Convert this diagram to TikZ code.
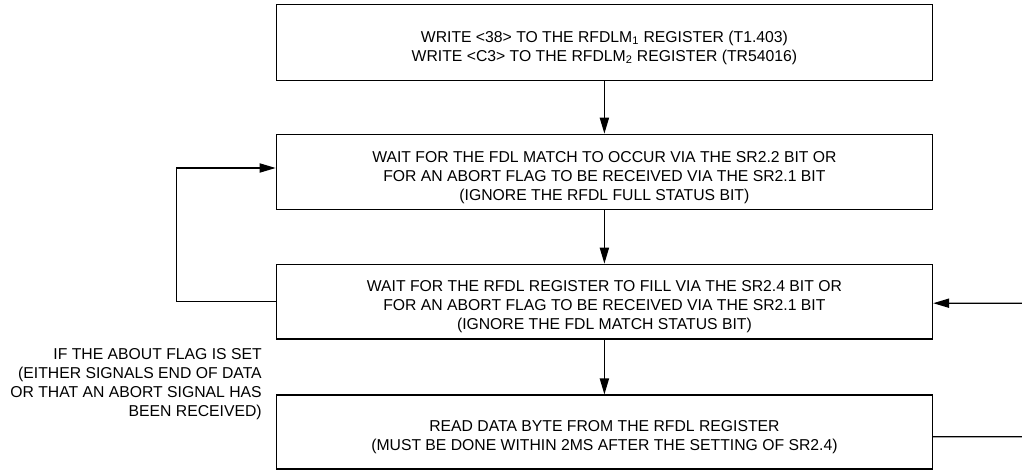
\documentclass[tikz,border=0pt]{standalone}
\usepackage{fontspec}
\setmainfont{Liberation Sans}
\usepackage{tikz}
\usetikzlibrary{arrows.meta}
\newcommand{\topgap}{\rule{0pt}{15.5pt}}
\tikzset{
  stepbox/.style = {draw, line width=1.1pt, minimum width=16.4cm, align=center,
    inner sep=0pt, font=\fontsize{11.2}{13.5}\selectfont},
  flow/.style = {line width=0.9pt, -{Triangle[length=0.4cm, width=0.23cm]}}
}

\begin{document}
\begin{tikzpicture}
    \useasboundingbox (0,0) rectangle (25.55,11.75);
    \node[stepbox, minimum height=1.9cm] (write) at (15.11,10.69)
        {\topgap WRITE <38> TO THE RFDLM\textsubscript{1} REGISTER (T1.403)\\
         WRITE <C3> TO THE RFDLM\textsubscript{2} REGISTER (TR54016)};
    \node[stepbox, minimum height=1.88cm] (waitmatch) at (15.11,7.45)
        {\topgap WAIT FOR THE FDL MATCH TO OCCUR VIA THE SR2.2 BIT OR\\
         FOR AN ABORT FLAG TO BE RECEIVED VIA THE SR2.1 BIT\\
         (IGNORE THE RFDL FULL STATUS BIT)};
    \node[stepbox, minimum height=1.86cm] (waitfill) at (15.11,4.21)
        {\topgap WAIT FOR THE RFDL REGISTER TO FILL VIA THE SR2.4 BIT OR\\
         FOR AN ABORT FLAG TO BE RECEIVED VIA THE SR2.1 BIT\\
         (IGNORE THE FDL MATCH STATUS BIT)};
    \node[stepbox, minimum height=1.84cm] (read) at (15.11,0.95)
        {\topgap READ DATA BYTE FROM THE RFDL REGISTER\\
         (MUST BE DONE WITHIN 2MS AFTER THE SETTING OF SR2.4)};
    \node[anchor=east, align=right, inner sep=0pt,
          font=\fontsize{11.2}{13.5}\selectfont] (abortnote) at (6.55,2.15)
        {IF THE ABOUT FLAG IS SET\\
         (EITHER SIGNALS END OF DATA\\
         OR THAT AN ABORT SIGNAL HAS\\
         BEEN RECEIVED)};
    \coordinate (rightloop) at (25.75,0.83);
    \draw[flow] (write) -- (waitmatch);
    \draw[flow] (waitmatch) -- (waitfill);
    \draw[flow] (waitfill) -- (read);
    \draw[flow] (waitfill.west) -- ++(-2.47,0) |- ([yshift=0.1cm]waitmatch.west);
    \draw[flow] ([yshift=-0.12cm]read.east) -- (rightloop) |- ([yshift=-0.04cm]waitfill.east);
\end{tikzpicture}
\end{document}
